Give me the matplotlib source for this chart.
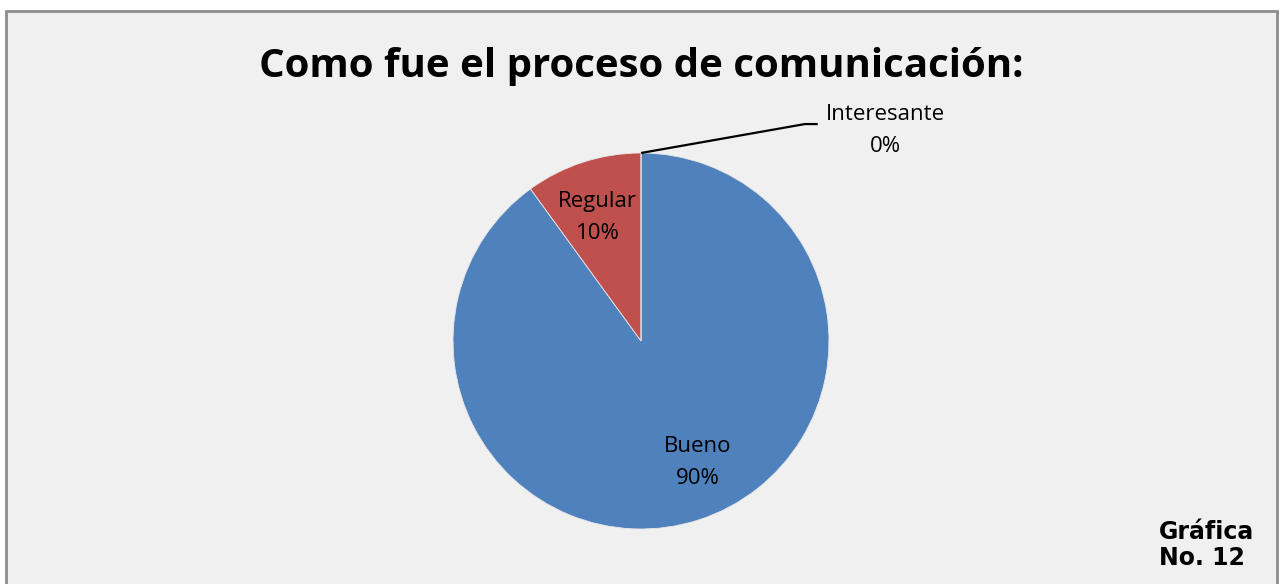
import numpy as np
import matplotlib
matplotlib.use("Agg")
from matplotlib import pyplot as plt
from matplotlib.patches import Rectangle

TITLE = 'Como fue el proceso de comunicación:'
CATEGORIES = ['Bueno', 'Regular', 'Interesante']
PERCENTS = [90, 10, 0]
COLORS = ['#4F81BD', '#C0504D', '#9BBB59']
FOOTNOTE = 'Gráfica\nNo. 12'

W, H = 1280, 584
BG = '#F0F0F0'
LABEL_FONT = ['Open Sans', 'DejaVu Sans']

fig = plt.figure(figsize=(W / 100, H / 100), dpi=100)
fig.patch.set_facecolor('white')

# chart area frame, open at the bottom
frame = Rectangle((6 / W, -0.05), (1277 - 6) / W, (H - 11) / H + 0.05,
                  transform=fig.transFigure, facecolor=BG,
                  edgecolor='#8C8C8C', linewidth=2, zorder=-1)
fig.patches.append(frame)

cx, cy, r = 641, 341, 188
ax = fig.add_axes([(cx - r) / W, (H - cy - r) / H, 2 * r / W, 2 * r / H])
ax.set_zorder(1)
ax.axis('off')

wedges, _ = ax.pie(PERCENTS, colors=COLORS, startangle=90, counterclock=False,
                   radius=1, wedgeprops=dict(edgecolor='#E8E8E8', linewidth=0.6))
ax.set_xlim(-1, 1)
ax.set_ylim(-1, 1)
ax.set_aspect('equal')

labels = [f'{c}\n{p}%' for c, p in zip(CATEGORIES, PERCENTS)]
label_kw = dict(ha='center', va='center', fontsize=16, family=LABEL_FONT,
                linespacing=1.7, color='black', clip_on=False)
ax.text(0.30, -0.645, labels[0], **label_kw)
ax.text(-0.23, 0.655, labels[1], **label_kw)
ax.text(1.30, 1.12, labels[2], **label_kw)

# leader line for the zero slice
ax.plot([0, 0.872, 0.94], [1.0, 1.154, 1.154], color='black', lw=1.6,
        clip_on=False, solid_capstyle='butt')

fig.text(641 / W, 1 - 66 / H, TITLE, ha='center', va='center', fontsize=29,
         fontweight='bold', family=['Open Sans', 'DejaVu Sans'])
fig.text(1159 / W, 1 - 545 / H, FOOTNOTE, ha='left', va='center', fontsize=17,
         fontweight='bold', family='DejaVu Sans', linespacing=1.15)

fig.savefig('out.png', dpi=100, facecolor=fig.get_facecolor())
